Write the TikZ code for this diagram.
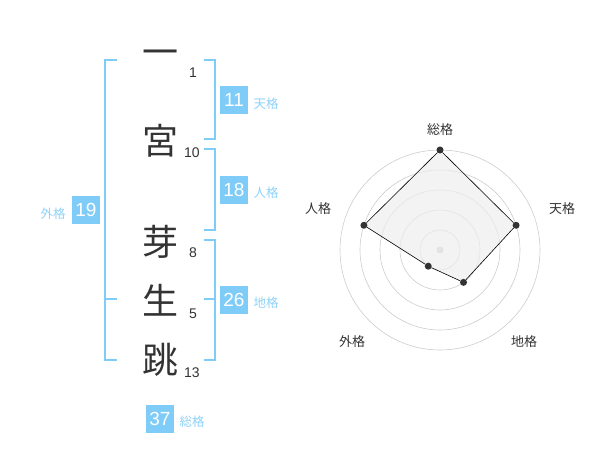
\documentclass[tikz,border=0pt]{standalone}
\usepackage{fontspec}
\setmainfont{Liberation Sans}
\newfontfamily\jpfont{Noto Sans CJK JP}
\usepackage{xcolor}
\usepackage{tikz}
\usetikzlibrary{calc, positioning}
\definecolor{kakuBlue}{HTML}{80CCF8}
\definecolor{kakuText}{HTML}{8ED2F8}
\definecolor{inkGray}{HTML}{333333}
\definecolor{ringGray}{HTML}{CCCCCC}
\definecolor{areaGray}{HTML}{EEEEEE}
\tikzset{
    kanji/.style={font=\jpfont\fontsize{36}{36}\selectfont, text=inkGray, inner sep=0pt},
    strokes/.style={font=\fontsize{14}{14}\selectfont, text=inkGray, inner sep=0pt},
    kakuBox/.style={rectangle, fill=kakuBlue, text=white, minimum width=28pt, minimum height=28pt, inner sep=0pt, font=\fontsize{19}{19}\selectfont},
    kakuLabel/.style={font=\jpfont\fontsize{12.5}{12.5}\selectfont, text=kakuText, inner sep=0pt},
    bracket/.style={draw=kakuBlue, line width=1.6pt},
    ring/.style={draw=ringGray, line width=0.6pt},
    radarLabel/.style={font=\jpfont\fontsize{13}{13}\selectfont, text=inkGray, inner sep=0pt},
    dot/.style={circle, fill=inkGray, minimum size=7pt, inner sep=0pt},
    edge/.style={draw=black, line width=0.6pt}
}

\begin{document}
\begin{tikzpicture}[x=1pt, y=-1pt]
    \useasboundingbox (0,0) rectangle (600,470);

    % Name characters
    \node[kanji] (ichi) at (160,58) {一};
    \node[kanji] (miya) at (160,141) {宮};
    \node[kanji] (me) at (160,242) {芽};
    \node[kanji] (sei) at (160,300) {生};
    \node[kanji] (cho) at (160,360) {跳};

    % Stroke counts
    \node[strokes] (nIchi) at (193,73) {1};
    \node[strokes] (nMiya) at (192,153) {10};
    \node[strokes] (nMe) at (193,253) {8};
    \node[strokes] (nSei) at (193,314) {5};
    \node[strokes] (nCho) at (192,373) {13};

    % Brackets
    \draw[bracket] (117,60) -- (105,60) -- (105,360) -- (117,360); % Gaikaku
    \draw[bracket] (105,299) -- (117,299);
    \draw[bracket] (204,60) -- (215,60) -- (215,139) -- (204,139); % Tenkaku
    \draw[bracket] (204,149) -- (215,149) -- (215,230) -- (204,230); % Jinkaku
    \draw[bracket] (204,240) -- (215,240) -- (215,360) -- (204,360); % Chikaku
    \draw[bracket] (204,299) -- (215,299);

    % Kaku values
    \node[kakuBox] (ten) at (234,100) {11};
    \node[kakuLabel] (tenL) at (266,104) {天格};
    \node[kakuBox] (jin) at (234,190) {18};
    \node[kakuLabel] (jinL) at (266,193) {人格};
    \node[kakuBox] (chi) at (234,300) {26};
    \node[kakuLabel] (chiL) at (266,303) {地格};
    \node[kakuBox] (gai) at (86,210) {19};
    \node[kakuLabel] (gaiL) at (53,214) {外格};
    \node[kakuBox] (so) at (160,419) {37};
    \node[kakuLabel] (soL) at (192,422) {総格};

    % Radar chart
    \begin{scope}[shift={(440,250)}, y=1pt]
        \foreach \r in {20,40,60,80,100}
            \draw[ring] (0,0) circle (\r pt);
        \fill[ringGray] (0,0) circle (3.5pt);

        \coordinate (pSo) at (90:100);
        \coordinate (pTen) at (18:80);
        \coordinate (pChi) at (-54:40);
        \coordinate (pGai) at (-126:20);
        \coordinate (pJin) at (162:80);

        \fill[areaGray, opacity=0.7] (pSo) -- (pTen) -- (pChi) -- (pGai) -- (pJin) -- cycle;

        \node[dot] (dSo) at (pSo) {};
        \node[dot] (dTen) at (pTen) {};
        \node[dot] (dChi) at (pChi) {};
        \node[dot] (dGai) at (pGai) {};
        \node[dot] (dJin) at (pJin) {};
        \draw[edge] (dSo) -- (dTen) -- (dChi) -- (dGai) -- (dJin) -- (dSo);

        \node[radarLabel] (lSo) at (0,120) {総格};
        \node[radarLabel] (lTen) at (122,41) {天格};
        \node[radarLabel] (lJin) at (-122,41) {人格};
        \node[radarLabel] (lGai) at (-88,-92) {外格};
        \node[radarLabel] (lChi) at (84,-92) {地格};
    \end{scope}
\end{tikzpicture}
\end{document}
